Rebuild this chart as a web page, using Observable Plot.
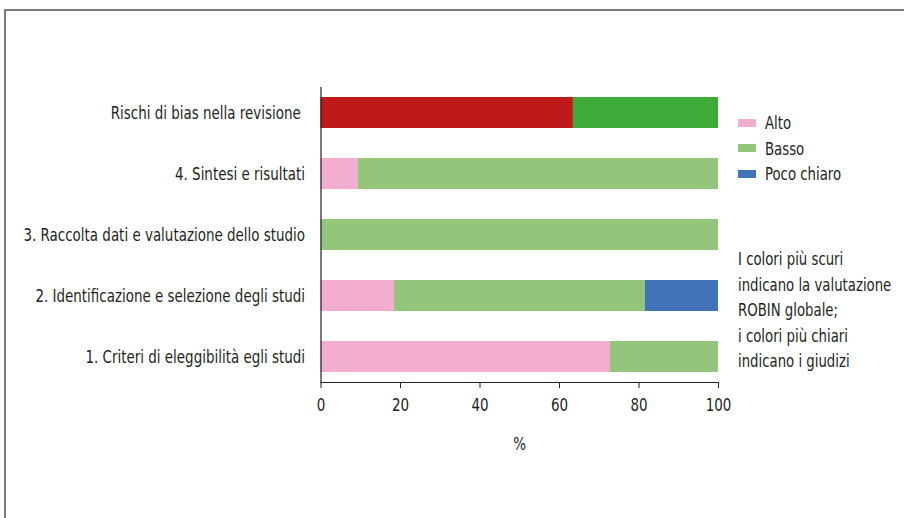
<!DOCTYPE html>
<html>
<head>
<meta charset="utf-8">
<script src="https://cdn.jsdelivr.net/npm/d3@7"></script>
<script src="https://cdn.jsdelivr.net/npm/@observablehq/plot@0.6"></script>
<style>
  html, body { margin: 0; padding: 0; background: #fff; }
  body { width: 904px; height: 518px; position: relative; overflow: hidden;
         font-family: "DejaVu Sans Condensed", sans-serif; color: #231f20; }
  #frame { position: absolute; left: 4px; top: 9px; width: 920px; height: 530px;
           border-top: 2px solid #7a7a7a; border-left: 2px solid #7a7a7a; box-sizing: border-box; }
  #chart { position: absolute; left: 0; top: 0; }
  #legend { position: absolute; left: 738px; top: 110px; font-size: 18px; white-space: nowrap; }
  .item { display: flex; align-items: center; height: 25.5px; }
  .sw { width: 18px; height: 8px; margin-right: 9px; }
  .lab { display: inline-block; transform: scaleX(0.82); transform-origin: left center; }
  #note { position: absolute; left: 738px; top: 246px; font-size: 18px; line-height: 25.5px; white-space: nowrap;
          transform: scaleX(0.82); transform-origin: left top; }
</style>
</head>
<body>
<div id="frame"></div>
<div id="chart"></div>
<div id="legend"></div>
<div id="note">I colori più scuri<br>indicano la valutazione<br>ROBIN globale;<br>i colori più chiari<br>indicano i giudizi</div>
<script>
const categories = [
  "Rischi di bias nella revisione ",
  "4. Sintesi e risultati",
  "3. Raccolta dati e valutazione dello studio",
  "2. Identificazione e selezione degli studi",
  "1. Criteri di eleggibilità egli studi"
];
const levels = ["Alto", "Basso", "Poco chiaro"];
const alto = [63.5, 9.4, 0, 18.5, 72.8];
const basso = [36.5, 90.6, 100, 63.1, 27.2];
const pocoChiaro = [0, 0, 0, 18.4, 0];
const overallRow = [true, false, false, false, false];
const lightColors = ["#f2adcf", "#93c67a", "#4272b8"];
const darkColors = ["#be1a1a", "#3eaa37", "#2a4f8f"];
const xTicks = [0, 20, 40, 60, 80, 100];

const series = [alto, basso, pocoChiaro];
const rows = [];
categories.forEach((c, i) => {
  levels.forEach((lv, j) => {
    rows.push({cat: c, level: lv, value: series[j][i], key: (overallRow[i] ? "dark " : "light ") + lv});
  });
});
const colorDomain = [...levels.map(l => "light " + l), ...levels.map(l => "dark " + l)];
const colorRange = [...lightColors, ...darkColors];

const font = '"DejaVu Sans Condensed", sans-serif';
const chart = Plot.plot({
  width: 904,
  height: 518,
  marginLeft: 320.5,
  marginRight: 186,
  marginTop: 87,
  marginBottom: 136,
  style: {fontFamily: font, fontSize: "18px", color: "#231f20", background: "transparent"},
  x: {domain: [0, 100]},
  y: {domain: categories, padding: 0.5, paddingOuter: 0.15},
  color: {type: "ordinal", domain: colorDomain, range: colorRange},
  marks: [
    Plot.barX(rows, Plot.stackX({y: "cat", x: "value", fill: "key", order: levels})),
    Plot.ruleX([0], {stroke: "#231f20", strokeWidth: 1.2}),
    Plot.frame({anchor: "bottom", stroke: "#231f20", strokeWidth: 1.2}),
    Plot.axisY({tickSize: 0, tickPadding: 16, label: null}),
    Plot.axisX({ticks: xTicks, tickSize: 6, tickPadding: 10, label: "%", labelAnchor: "center", labelArrow: "none", labelOffset: 67})
  ]
});
document.getElementById("chart").appendChild(chart);

// condense the glyphs horizontally (the reference uses a condensed face)
chart.querySelectorAll("text").forEach(el => {
  const len = el.getComputedTextLength();
  if (len > 0) {
    el.setAttribute("textLength", (len * 0.83).toFixed(2));
    el.setAttribute("lengthAdjust", "spacingAndGlyphs");
  }
});

const legend = document.getElementById("legend");
levels.forEach((lv, j) => {
  const it = document.createElement("div");
  it.className = "item";
  it.innerHTML = `<div class="sw" style="background:${lightColors[j]}"></div><span class="lab">${lv}</span>`;
  legend.appendChild(it);
});
</script>
</body>
</html>
